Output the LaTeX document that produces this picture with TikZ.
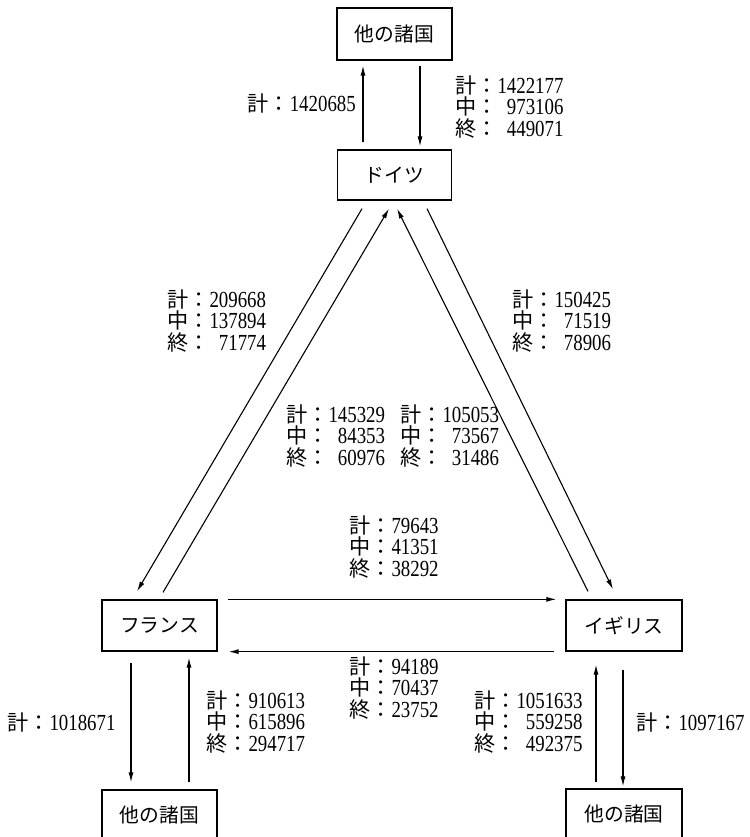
\documentclass[tikz,border=0pt]{standalone}
\usepackage{fontspec}
\setmainfont{Liberation Serif}[FakeStretch=0.82]
\newfontfamily\cjk{Noto Sans CJK JP}[Scale=0.92]
\usetikzlibrary{arrows.meta}
\newlength\dw
\newcommand\three[3]{\setbox0=\hbox{#1}\dw=\wd0\relax
 \vbox{\baselineskip=21.4pt\lineskiplimit=-\maxdimen
  \hbox{{\cjk 計：}#1}%
  \hbox{{\cjk 中：}\hbox to\dw{\hfil#2}}%
  \hbox{{\cjk 終：}\hbox to\dw{\hfil#3}}}}
\newcommand\one[1]{\hbox{{\cjk 計：}#1}}
\begin{document}
\begin{tikzpicture}[x=1pt,y=-1pt,
  box/.style={draw,line width=1.3pt,inner sep=0pt,minimum height=50pt,font=\fontsize{21.5}{21.5}\selectfont\cjk},
  arr/.style={line width=1.1pt,-{Latex[length=10pt,width=5pt]}},
  lab/.style={inner sep=0pt,font=\fontsize{23}{21.4}\selectfont}]
\useasboundingbox (0,0) rectangle (749,837);
\fill[white] (0,0) rectangle (749,837);
% boxes
\node[box,minimum width=115pt,minimum height=52pt] (top) at (394.5,34) {他の諸国};
\node[box,minimum width=114pt] (ger) at (394.5,175) {ドイツ};
\node[box,minimum width=115pt,minimum height=51pt] (fra) at (159.5,625.5) {フランス};
\node[box,minimum width=116pt,minimum height=51pt] (uk) at (624,625.5) {イギリス};
\node[box,minimum width=115pt] (bl) at (159.5,815) {他の諸国};
\node[box,minimum width=116pt] (br) at (624,814) {他の諸国};
% vertical arrows
\draw[arr] ([xshift=-31.5pt,yshift=7pt]ger.north) -- ([xshift=-31.5pt,yshift=-5pt]top.south);
\draw[arr] ([xshift=25.5pt,yshift=-5pt]top.south) -- ([xshift=25.5pt,yshift=3pt]ger.north);
\draw[arr] ([xshift=-28.5pt,yshift=-11pt]fra.south) -- ([xshift=-28.5pt,yshift=7pt]bl.north);
\draw[arr] ([xshift=29.5pt,yshift=7pt]bl.north) -- ([xshift=29.5pt,yshift=-6pt]fra.south);
\draw[arr] ([xshift=-28pt,yshift=6pt]br.north) -- ([xshift=-28pt,yshift=-13pt]uk.south);
\draw[arr] ([xshift=-1pt,yshift=-18pt]uk.south) -- ([xshift=-1pt,yshift=2pt]br.north);
% horizontal arrows
\draw[arr] ([xshift=10pt]fra.north east) -- ([xshift=-9pt]uk.north west);
\draw[arr] ([xshift=-11pt]uk.south west) -- ([xshift=11pt]fra.south east);
% diagonal arrows
\draw[arr] ([xshift=-32.5pt,yshift=-8pt]ger.south) -- ([xshift=-22.5pt,yshift=8pt]fra.north);
\draw[arr] ([xshift=3.5pt,yshift=7pt]fra.north) -- ([xshift=-5.5pt,yshift=-8pt]ger.south);
\draw[arr] ([xshift=-36pt,yshift=8pt]uk.north) -- ([xshift=2.5pt,yshift=-8pt]ger.south);
\draw[arr] ([xshift=32.5pt,yshift=-8pt]ger.south) -- ([xshift=-11pt,yshift=10pt]uk.north);
% labels
\node[lab,anchor=east] (l1) at (356,103) {\one{1420685}};
\node[lab,anchor=west] (l2) at (455,107) {\three{1422177}{973106}{449071}};
\node[lab,anchor=west] (l3) at (167,321) {\three{209668}{137894}{71774}};
\node[lab,anchor=west] (l4) at (512,321) {\three{150425}{71519}{78906}};
\node[lab,anchor=west] (l5) at (286,436) {\three{145329}{84353}{60976}};
\node[lab,anchor=west] (l6) at (400,436) {\three{105053}{73567}{31486}};
\node[lab,anchor=west] (l7) at (349,547) {\three{79643}{41351}{38292}};
\node[lab,anchor=west] (l8) at (349,688) {\three{94189}{70437}{23752}};
\node[lab,anchor=west] (l9) at (7,722) {\one{1018671}};
\node[lab,anchor=west] (l10) at (206,722) {\three{910613}{615896}{294717}};
\node[lab,anchor=west] (l11) at (474,722) {\three{1051633}{559258}{492375}};
\node[lab,anchor=west] (l12) at (636,722) {\one{1097167}};
\end{tikzpicture}
\end{document}
